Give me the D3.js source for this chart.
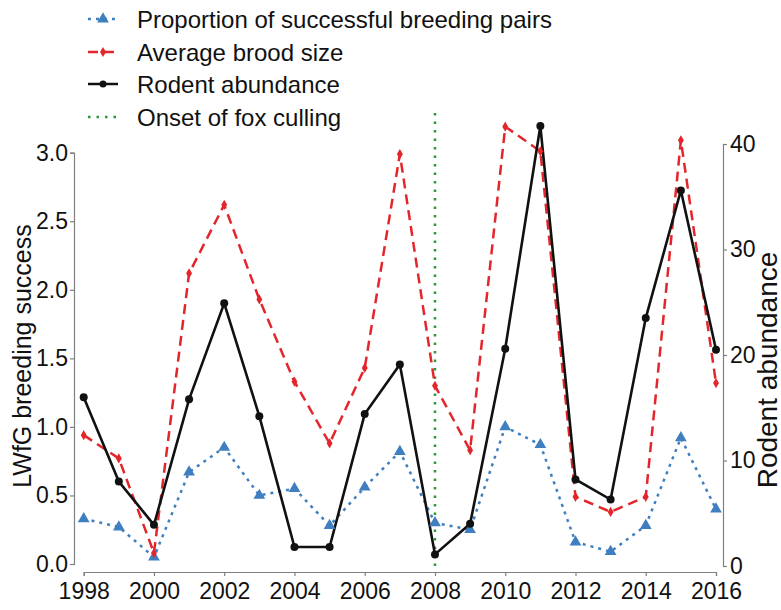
<!DOCTYPE html>
<html>
<head>
<meta charset="utf-8">
<script src="https://cdn.jsdelivr.net/npm/d3@7"></script>
<style>
  html, body { margin: 0; padding: 0; background: #fff; }
  svg { display: block; font-family: "Liberation Sans", Arial, sans-serif; }
</style>
</head>
<body>
<svg id="chart" width="781" height="610"></svg>
<script>
// Lesser White-fronted Goose breeding success vs. rodent abundance, 1998-2016
const years = [1998, 1999, 2000, 2001, 2002, 2003, 2004, 2005, 2006, 2007,
               2008, 2009, 2010, 2011, 2012, 2013, 2014, 2015, 2016];
const proportionSuccessful = [0.33, 0.27, 0.05, 0.67, 0.85, 0.50, 0.55, 0.28, 0.56, 0.82,
                              0.30, 0.25, 1.00, 0.87, 0.16, 0.09, 0.28, 0.92, 0.40];
const broodSize = [0.94, 0.77, 0.08, 2.12, 2.62, 1.93, 1.33, 0.88, 1.43, 2.99,
                   1.30, 0.83, 3.19, 3.01, 0.49, 0.38, 0.49, 3.09, 1.32];
const rodentAbundance = [16.0, 8.0, 3.9, 15.8, 24.9, 14.2, 1.8, 1.8, 14.4, 19.1,
                         1.1, 4.0, 20.6, 41.7, 8.2, 6.3, 23.5, 35.6, 20.5];
const foxCullingYear = 2008;
const xTicks = [1998, 2000, 2002, 2004, 2006, 2008, 2010, 2012, 2014, 2016];
const leftTicks = [0, 0.5, 1.0, 1.5, 2.0, 2.5, 3.0];
const rightTicks = [0, 10, 20, 30, 40];
const legendLabels = ["Proportion of successful breeding pairs", "Average brood size",
                      "Rodent abundance", "Onset of fox culling"];

const BLUE = "#3f7fbf", RED = "#e3262c", BLACK = "#111", GREEN = "#2a9a36", AXIS = "#808080";

const svg = d3.select("#chart");

const x = d3.scaleLinear().domain([1998, 2016]).range([83.7, 716]);
const yL = d3.scaleLinear().domain([0, 3]).range([564, 152.7]);
const yR = d3.scaleLinear().domain([0, 40]).range([566, 144]);

// axes
function styleAxis(g, fs) {
  g.select(".domain").attr("stroke", AXIS).attr("stroke-width", 1.2);
  g.selectAll(".tick line").attr("stroke", AXIS).attr("stroke-width", 1.2);
  g.selectAll(".tick text").attr("fill", "#111").style("font-size", fs + "px")
    .style("font-family", "'Liberation Sans', Arial, sans-serif");
}

svg.append("g").attr("transform", "translate(0,572)")
  .call(d3.axisBottom(x).tickValues(xTicks).tickFormat(d3.format("d"))
    .tickSize(4).tickSizeOuter(4).tickPadding(7))
  .call(g => styleAxis(g, 23));

svg.append("g").attr("transform", "translate(74,0)")
  .call(d3.axisLeft(yL).tickValues(leftTicks).tickFormat(d3.format(".1f"))
    .tickSize(4).tickSizeOuter(4).tickPadding(2))
  .call(g => styleAxis(g, 23));

svg.append("g").attr("transform", "translate(723,0)")
  .call(d3.axisRight(yR).tickValues(rightTicks).tickFormat(d3.format("d"))
    .tickSize(4).tickSizeOuter(4).tickPadding(3))
  .call(g => styleAxis(g, 23));

// axis titles
svg.append("text")
  .attr("transform", "translate(22,356) rotate(-90)")
  .attr("text-anchor", "middle").attr("dominant-baseline", "central")
  .style("font-size", "25px").attr("fill", "#111")
  .text("LWfG breeding success");

svg.append("text")
  .attr("transform", "translate(767,370) rotate(-90)")
  .attr("text-anchor", "middle").attr("dominant-baseline", "central")
  .style("font-size", "28px").attr("fill", "#111")
  .text("Rodent abundance");

// onset of fox culling
svg.append("line")
  .attr("x1", x(foxCullingYear)).attr("x2", x(foxCullingYear))
  .attr("y1", 113).attr("y2", 572)
  .attr("stroke", GREEN).attr("stroke-width", 2.5)
  .attr("stroke-dasharray", "2.5,6");

const idx = d3.range(years.length);

// proportion of successful breeding pairs (left axis)
svg.append("path")
  .attr("d", d3.line().x(i => x(years[i])).y(i => yL(proportionSuccessful[i]))(idx))
  .attr("fill", "none").attr("stroke", BLUE).attr("stroke-width", 2.5)
  .attr("stroke-dasharray", "3,5");

// average brood size (left axis)
svg.append("path")
  .attr("d", d3.line().x(i => x(years[i])).y(i => yL(broodSize[i]))(idx))
  .attr("fill", "none").attr("stroke", RED).attr("stroke-width", 2.5)
  .attr("stroke-dasharray", "10,6");

// rodent abundance (right axis)
svg.append("path")
  .attr("d", d3.line().x(i => x(years[i])).y(i => yR(rodentAbundance[i]))(idx))
  .attr("fill", "none").attr("stroke", BLACK).attr("stroke-width", 2.6);

const tri = d3.symbol().type(d3.symbolTriangle).size(60);
const dia = d3.symbol().type(d3.symbolDiamond).size(30);

svg.append("g").selectAll("path").data(idx).join("path")
  .attr("d", tri)
  .attr("transform", i => `translate(${x(years[i])},${yL(proportionSuccessful[i])})`)
  .attr("fill", BLUE);

svg.append("g").selectAll("path").data(idx).join("path")
  .attr("d", dia)
  .attr("transform", i => `translate(${x(years[i])},${yL(broodSize[i])})`)
  .attr("fill", RED);

svg.append("g").selectAll("circle").data(idx).join("circle")
  .attr("cx", i => x(years[i])).attr("cy", i => yR(rodentAbundance[i]))
  .attr("r", 4).attr("fill", BLACK);

// legend
const legendY = [19, 52, 84, 117];
const lg = svg.append("g");
const lineStyles = [
  { color: BLUE, dash: "3,5", marker: tri },
  { color: RED, dash: "10,6", marker: dia },
  { color: BLACK, dash: null, marker: null, dot: true },
  { color: GREEN, dash: "2.5,6", marker: null }
];
legendLabels.forEach((label, k) => {
  const s = lineStyles[k];
  const yy = legendY[k];
  lg.append("line").attr("x1", 88).attr("x2", 118).attr("y1", yy).attr("y2", yy)
    .attr("stroke", s.color).attr("stroke-width", 2.5)
    .attr("stroke-dasharray", s.dash);
  if (s.marker) {
    lg.append("path").attr("d", s.marker).attr("transform", `translate(103,${yy})`)
      .attr("fill", s.color);
  }
  if (s.dot) {
    lg.append("circle").attr("cx", 103).attr("cy", yy).attr("r", 3.5).attr("fill", s.color);
  }
  lg.append("text").attr("x", 137).attr("y", yy).attr("dominant-baseline", "central")
    .style("font-size", "24px").attr("fill", "#111").text(label);
});
</script>
</body>
</html>
